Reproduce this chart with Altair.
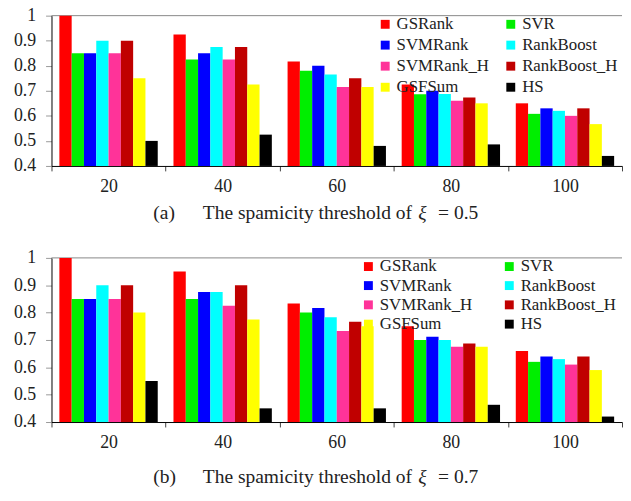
import altair as alt
import pandas as pd

groups = ["20", "40", "60", "80", "100"]
methods = ["GSRank", "SVR", "SVMRank", "RankBoost", "SVMRank_H", "RankBoost_H", "GSFSum", "HS"]
colors = ["#FF0000", "#00EE00", "#0000FF", "#00FFFF", "#FF3399", "#C00000", "#FFFF00", "#000000"]

# panel (a): xi = 0.5
a_GSRank = [1.0, 0.925, 0.817, 0.725, 0.65]
a_SVR = [0.85, 0.825, 0.78, 0.686, 0.608]
a_SVMRank = [0.85, 0.85, 0.80, 0.70, 0.63]
a_RankBoost = [0.90, 0.875, 0.765, 0.687, 0.62]
a_SVMRank_H = [0.85, 0.825, 0.715, 0.66, 0.60]
a_RankBoost_H = [0.90, 0.875, 0.75, 0.673, 0.63]
a_GSFSum = [0.75, 0.725, 0.715, 0.65, 0.567]
a_HS = [0.50, 0.525, 0.48, 0.486, 0.44]

# panel (b): xi = 0.7
b_GSRank = [1.0, 0.95, 0.833, 0.75, 0.66]
b_SVR = [0.85, 0.85, 0.80, 0.70, 0.62]
b_SVMRank = [0.85, 0.875, 0.817, 0.712, 0.64]
b_RankBoost = [0.90, 0.875, 0.783, 0.70, 0.63]
b_SVMRank_H = [0.85, 0.825, 0.733, 0.675, 0.61]
b_RankBoost_H = [0.90, 0.90, 0.767, 0.687, 0.64]
b_GSFSum = [0.80, 0.775, 0.75, 0.675, 0.59]
b_HS = [0.55, 0.45, 0.45, 0.463, 0.42]

y_ticks = [0.4, 0.5, 0.6, 0.7, 0.8, 0.9, 1.0]
caption_a = ["(a)", "The spamicity threshold of", "\u03be", "= 0.5"]
caption_b = ["(b)", "The spamicity threshold of", "\u03be", "= 0.7"]

FONT = "Liberation Serif"
W = 577


def long_df(series):
    rows = []
    for m, vals in zip(methods, series):
        for g, v in zip(groups, vals):
            rows.append({"group": g, "method": m, "value": v})
    return pd.DataFrame(rows)


def panel(series, caption, height, cap_off, legend_x, legend_y, col_pad, row_pad):
    df = long_df(series)
    bars = alt.Chart(df).mark_bar(strokeWidth=0).encode(
        x=alt.X("group:N", sort=groups,
                scale=alt.Scale(paddingInner=0, paddingOuter=0),
                axis=alt.Axis(title=None, labelAngle=0, tickBand="extent", tickSize=5,
                              tickColor="#404040", domainColor="black", labelPadding=7,
                              labelFontSize=18, labelFont=FONT, labelColor="#222222")),
        xOffset=alt.XOffset("method:N", sort=methods,
                            scale=alt.Scale(paddingInner=0, paddingOuter=0.64)),
        y=alt.Y("value:Q", scale=alt.Scale(domain=[0.4, 1.0], zero=False, nice=False),
                axis=alt.Axis(title=None, values=y_ticks, format=".1~f", grid=False,
                              tickSize=6, tickColor="#999999", domainColor="black",
                              labelPadding=10, labelFontSize=18, labelFont=FONT,
                              labelColor="#222222")),
        y2=alt.datum(0.4),
        color=alt.Color("method:N", sort=methods,
                        scale=alt.Scale(domain=methods, range=colors),
                        legend=alt.Legend(title=None, orient="none", legendX=legend_x,
                                          legendY=legend_y, columns=2, direction="horizontal",
                                          symbolType="square",
                                          symbolSize=81, symbolStrokeWidth=0,
                                          labelFont=FONT, labelFontSize=17,
                                          labelColor="#222222", labelLimit=0,
                                          labelOffset=3, columnPadding=col_pad,
                                          rowPadding=row_pad, padding=0)),
    )
    border = alt.Chart(pd.DataFrame({"v": [0]})).mark_rule(color="#888888", strokeWidth=1).encode(
        x=alt.value(0), x2=alt.value(W), y=alt.value(0))
    cap_y = height + cap_off
    xs = [103, 153, 371, 391]
    layers = [border, bars]
    for i, (t, xx) in enumerate(zip(caption, xs)):
        tdf = pd.DataFrame({"t": [t]})
        layers.append(
            alt.Chart(tdf).mark_text(align="left", baseline="middle", font=FONT, fontSize=19.7,
                                     fontStyle="italic" if i == 2 else "normal",
                                     color="#222222").encode(
                x=alt.value(xx), y=alt.value(cap_y), text="t:N")
        )
    return alt.layer(*layers).properties(width=W, height=height)


top = panel([a_GSRank, a_SVR, a_SVMRank, a_RankBoost, a_SVMRank_H, a_RankBoost_H, a_GSFSum, a_HS],
            caption_a, 152, 47.5, 329, 0, 13, 3.3)
bottom = panel([b_GSRank, b_SVR, b_SVMRank, b_RankBoost, b_SVMRank_H, b_RankBoost_H, b_GSFSum, b_HS],
               caption_b, 166, 55.5, 312, 0, 28.5, 1.5)

chart = alt.vconcat(top, bottom, spacing=25).resolve_legend(color="independent").properties(
    padding={"left": 5, "top": -5, "right": 0, "bottom": 0}
).configure(font=FONT).configure_view(stroke="transparent")

chart.save("out.html", embed_options={"renderer": "svg", "actions": False})
